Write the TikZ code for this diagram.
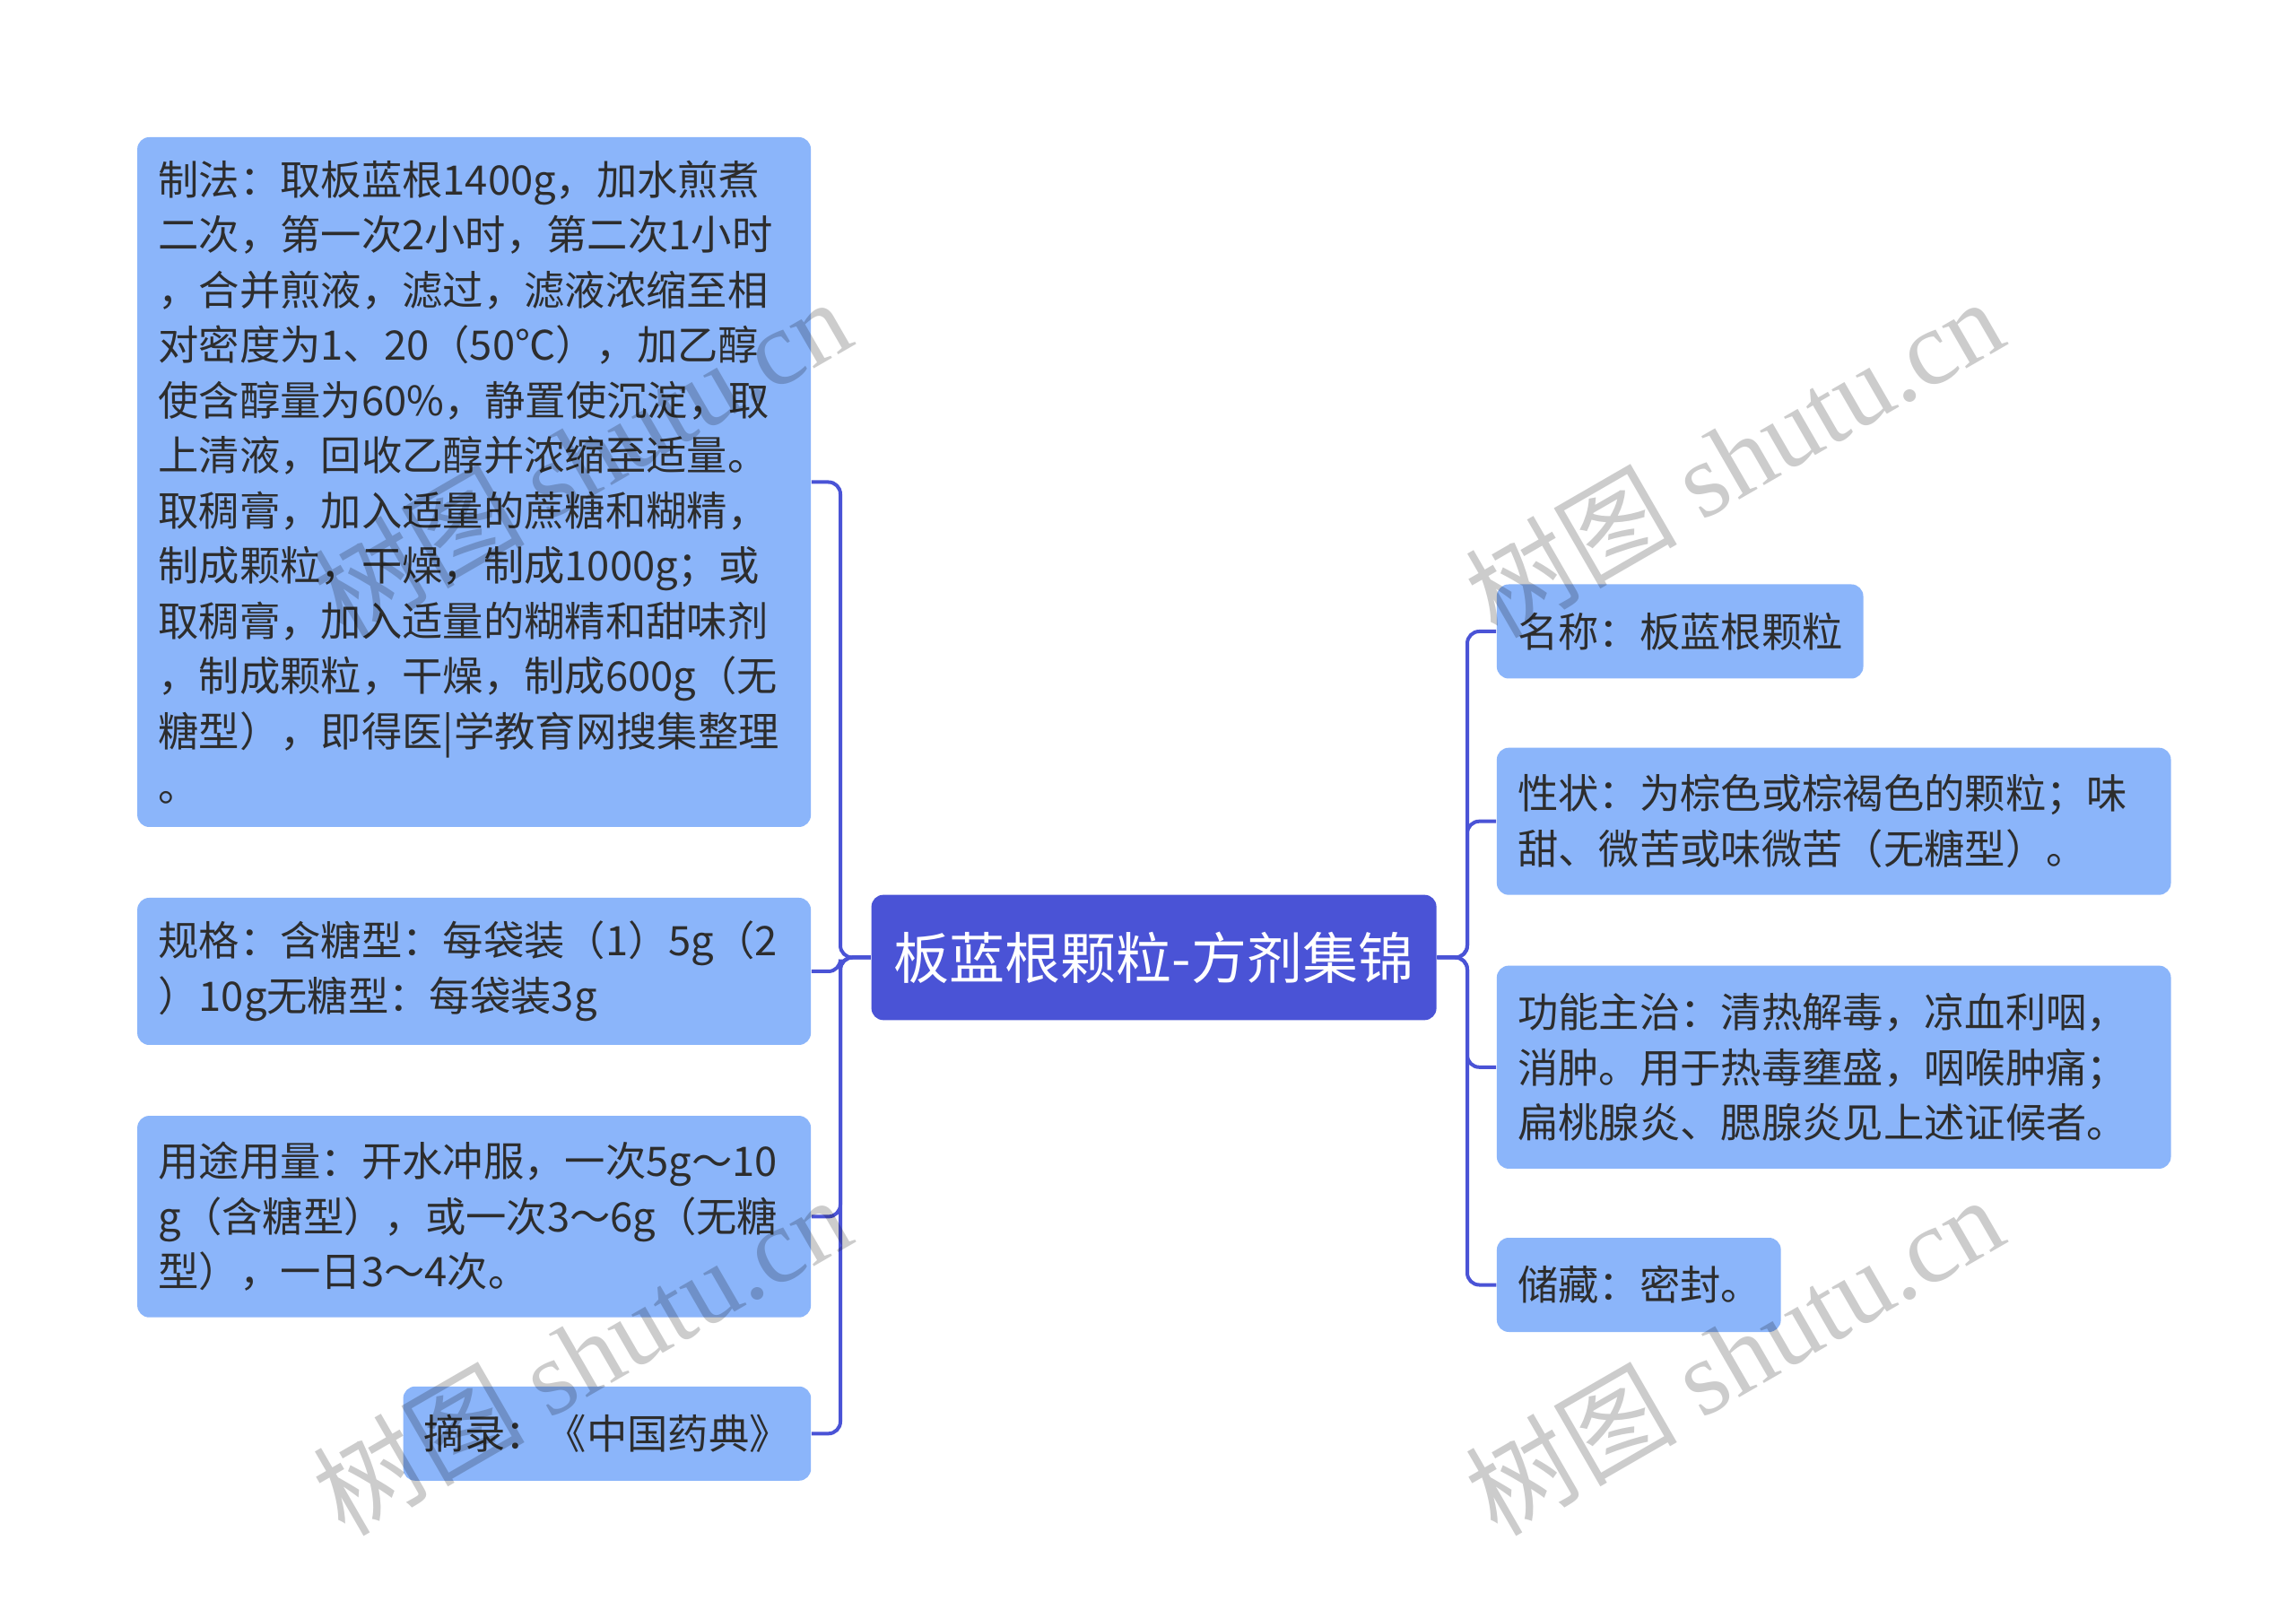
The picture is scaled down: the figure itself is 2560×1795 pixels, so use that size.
\documentclass[tikz,border=0pt]{standalone}
\usepackage{fontspec}
\setmainfont{Noto Sans CJK SC}
\newfontfamily\wmcjk{Noto Sans CJK SC}
\newfontfamily\wmlat{Liberation Serif}
\definecolor{boxblue}{RGB}{139,181,250}
\definecolor{mainblue}{RGB}{74,83,214}
\definecolor{txt}{RGB}{45,45,45}
\begin{document}
\begin{tikzpicture}[x=0.3pt,y=-0.3pt,
  leaf/.style={fill=boxblue, rounded corners=4pt, text=txt, align=left, inner xsep=0pt, inner ysep=0pt,
    font=\fontsize{13.6pt}{18.45pt}\selectfont},
  root/.style={fill=mainblue, rounded corners=4pt, text=white, inner sep=0pt,
    font=\fontsize{18.6pt}{22pt}\selectfont},
  conn/.style={draw=mainblue, line width=1.2pt, rounded corners=4pt},
  wm/.style={rotate=30, text=black, opacity=0.2, font=\fontsize{35.5pt}{40pt}\selectfont}
]
\useasboundingbox (0,0) rectangle (2560,1795);
\fill[white] (0,0) rectangle (2560,1795);

% root
\node[root, minimum width=189pt, minimum height=41.9pt] (c) at (1286.6,1067.5) {板蓝根颗粒-方剂集锦};

% left leaves
\node[leaf, minimum width=225.3pt, minimum height=230.7pt, text width=211.3pt] (b1) at (528.6,537.5) {制法：取板蓝根1400g，加水煎煮\\二次，第一次2小时，第二次1小时\\，合并煎液，滤过，滤液浓缩至相\\对密度为1、20（50℃），加乙醇\\使含醇量为60\%，静置使沉淀，取\\上清液，回收乙醇并浓缩至适量。\\取稠膏，加入适量的蔗糖和糊精，\\制成颗粒，干燥，制成1000g；或\\取稠膏，加入适量的糊精和甜味剂\\，制成颗粒，干燥，制成600g（无\\糖型），即得医|学教育网搜集整理\\。};
\node[leaf, minimum width=225.3pt, minimum height=49.2pt, text width=211.3pt] (b2) at (528.6,1083) {规格：含糖型：每袋装（1）5g（2\\）10g无糖型：每袋装3g};
\node[leaf, minimum width=225.3pt, minimum height=67.4pt, text width=211.3pt] (b3) at (528.6,1356.4) {用途用量：开水冲服，一次5g～10\\g（含糖型），或一次3～6g（无糖\\型），一日3～4次。};
\node[leaf, minimum width=136.4pt, minimum height=31.5pt, text width=122.4pt] (b4) at (676.9,1598.3) {摘录：《中国药典》};

% right leaves
\node[leaf, minimum width=122.6pt, minimum height=31.5pt, text width=108.6pt] (r1) at (1873.2,704) {名称：板蓝根颗粒};
\node[leaf, minimum width=225.5pt, minimum height=49.2pt, text width=211.5pt] (r2) at (2044.7,915.7) {性状：为棕色或棕褐色的颗粒；味\\甜、微苦或味微苦（无糖型）。};
\node[leaf, minimum width=225.5pt, minimum height=67.9pt, text width=211.5pt] (r3) at (2044.7,1189.8) {功能主治：清热解毒，凉血利咽，\\消肿。用于热毒壅盛，咽喉肿痛；\\扁桃腺炎、腮腺炎见上述证候者。};
\node[leaf, minimum width=95pt, minimum height=31.5pt, text width=81pt] (r4) at (1827.3,1432.5) {储藏：密封。};

% connectors
\coordinate (lj) at (937,1067.5);
\coordinate (rj) at (1636,1067.5);
\foreach \n in {b1,b2,b3,b4} \draw[conn] (c.west) -- (lj) |- (\n.east);
\foreach \n in {r1,r2,r3,r4} \draw[conn] (c.east) -- (rj) |- (\n.west);

% watermarks
\node[wm] (w1) at (648,509) {\wmcjk 树图 \wmlat shutu.cn};
\node[wm] (w2) at (1933,509) {\wmcjk 树图 \wmlat shutu.cn};
\node[wm] (w3) at (648,1510) {\wmcjk 树图 \wmlat shutu.cn};
\node[wm] (w4) at (1933,1510) {\wmcjk 树图 \wmlat shutu.cn};
\end{tikzpicture}
\end{document}
